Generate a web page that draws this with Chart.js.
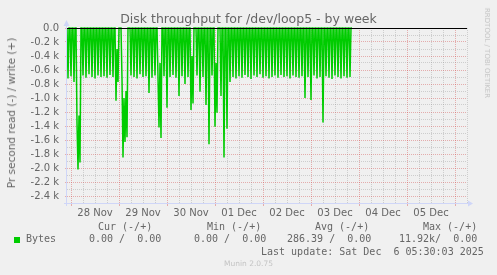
<!DOCTYPE html>
<html>
<head>
<meta charset="utf-8">
<title>Disk throughput for /dev/loop5 - by week</title>
<script src="https://cdn.jsdelivr.net/npm/chart.js@4.4.1/dist/chart.umd.min.js"></script>
<style>
html, body { margin: 0; padding: 0; background: #f0f0f0; }
#wrap { position: relative; width: 497px; height: 275px; overflow: hidden; }
canvas { position: absolute; left: 0; top: 0; }
.t { position: absolute; white-space: pre; color: #666; font-family: "DejaVu Sans"; }
.m { position: absolute; white-space: pre; color: #666; font-family: "DejaVu Sans Mono"; font-size: 10px; line-height: 12px; }
</style>
</head>
<body>
<div id="wrap">
  <canvas id="chart" width="497" height="275"></canvas>

  <div class="t" style="left:0;width:497px;text-align:center;top:11px;font-size:12.5px;line-height:16px;">Disk throughput for /dev/loop5 - by week</div>
  <div class="t" style="left:11px;top:113px;font-size:10.5px;transform:translate(-50%,-50%) rotate(-90deg);">Pr second read (-) / write (+)</div>
  <div class="t" style="left:487px;top:53px;font-size:7px;color:#c4c4c4;transform:translate(-50%,-50%) rotate(90deg);">RRDTOOL / TOBI OETIKER</div>

  <div class="m" style="left:98px;top:221px;">Cur (-/+)</div>
  <div class="m" style="left:207px;top:221px;">Min (-/+)</div>
  <div class="m" style="left:315px;top:221px;">Avg (-/+)</div>
  <div class="m" style="left:423px;top:221px;">Max (-/+)</div>

  <div style="position:absolute;left:14px;top:237px;width:6px;height:6px;background:#00cc00;"></div>
  <div class="m" style="left:26px;top:233px;">Bytes</div>
  <div class="m" style="left:89px;top:233px;">0.00 /  0.00</div>
  <div class="m" style="left:194px;top:233px;">0.00 /  0.00</div>
  <div class="m" style="left:287px;top:233px;">286.39 /  0.00</div>
  <div class="m" style="left:399px;top:233px;">11.92k/  0.00</div>

  <div class="m" style="left:261px;top:246px;">Last update: Sat Dec  6 05:30:03 2025</div>
  <div class="t" style="left:0;width:497px;text-align:center;top:259px;font-size:7.5px;line-height:10px;color:#c4c4c4;">Munin 2.0.75</div>
</div>

<script>
// ── Data ──────────────────────────────────────────────────────────────────
// read throughput (k bytes/s, negative = read), one value per 30 min,
// starting 27 Nov 22:00
const stepHours = 0.5;
const readK = [
  0, -0.72, 0, 0, -0.69, 0, 0, -0.77, 0, 0, -1.35, -2.02, -1.25, -1.92, 0,
  0, -0.68, 0, 0, -0.71, 0, 0, -0.66, 0, 0, -0.70, 0, 0, -0.72, 0,
  0, -0.68, 0, 0, -0.70, 0, 0, -0.69, 0, 0, -0.71, 0, 0, -0.67, 0,
  0, -0.70, 0, 0, -1.04, -0.30, -0.77, 0, 0, 0, -0.72, -1.85, -1.00, -1.63, -0.90,
  -1.56, 0, 0, 0, -0.68, 0, 0, -0.70, 0, 0, -0.72, 0, 0, -0.66, 0,
  0, -0.70, 0, 0, -0.69, 0, 0, -0.93, 0, 0, -0.71, 0, 0, -0.68, 0,
  0, -0.70, -1.42, -0.50, -1.57, 0, 0, -0.69, 0, 0, -1.14, 0, 0, -0.70, 0,
  0, -0.67, 0, 0, -0.71, 0, 0, -0.97, 0, 0, -0.69, 0, 0, -0.80, 0,
  0, -0.70, 0, 0, -1.17, -0.40, -1.08, 0, 0, 0, -0.68, 0, 0, -0.91, 0,
  0, -0.70, 0, 0, -1.10, 0, 0, -1.66, 0, 0, -0.68, 0, 0, -1.41, -0.50,
  -1.21, 0, 0, 0, -0.97, 0, 0, -1.85, 0, 0, -1.44, 0, 0, -0.77, 0,
  0, -0.70, 0, 0, -0.72, 0, 0, -0.69, 0, 0, -0.71, 0, 0, -0.67, 0,
  0, -0.70, 0, 0, -0.73, 0, 0, -0.68, 0, 0, -0.70, 0, 0, -0.66, 0,
  0, -0.71, 0, 0, -0.69, 0, 0, -0.72, 0, 0, -0.70, 0, 0, -0.68, 0,
  0, -0.71, 0, 0, -0.67, 0, 0, -0.70, 0, 0, -0.69, 0, 0, -0.72, 0,
  0, -0.68, 0, 0, -0.70, 0, 0, -0.71, 0, 0, -0.69, 0, 0, -1.00, 0,
  0, -0.70, 0, 0, -1.03, 0, 0, -0.68, 0, 0, -0.72, 0, 0, -0.70, 0,
  0, -1.35, 0, 0, -0.69, 0, 0, -0.71, 0, 0, -0.73, 0, 0, -0.68, 0,
  0, -0.70, 0, 0, -0.72, 0, 0, -0.69, 0, 0, -0.71, 0, 0, -0.70, 0,
  0
];

// x axis: hours since 27 Nov 22:00, first midnight at hour 2
const spanHours = 200;
const firstMidnight = 2;
const dayLabels = ['28 Nov', '29 Nov', '30 Nov', '01 Dec', '02 Dec', '03 Dec', '04 Dec', '05 Dec'];

// y axis (bytes/s)
const yMin = -2500;
const yMax = 0;
const yStep = 100;

// ── Colours ───────────────────────────────────────────────────────────────
const LINE  = '#00cc00';
const GRID  = 'rgba(140,140,140,0.35)';
const MGRID = 'rgba(210,70,70,0.40)';
const AXIS  = '#cfd6f8';
const FONT  = '#666666';

Chart.defaults.font.family = 'DejaVu Sans';

const xTicks = [];
for (let h = firstMidnight; h <= spanHours; h += 6) xTicks.push(h);

const isMidnight = v => ((v - firstMidnight) % 24) === 0;

// zero line + arrow-headed axes, the rrdtool look
const rrdAxes = {
    id: 'rrdAxes',
    afterDatasetsDraw(chart) {
        const { ctx, chartArea: a, scales } = chart;
        const y0 = Math.round(scales.y.getPixelForValue(0)) + 0.5;
        ctx.save();
        ctx.strokeStyle = '#000';
        ctx.lineWidth = 1;
        ctx.beginPath();
        ctx.moveTo(a.left, y0);
        ctx.lineTo(a.right, y0);
        ctx.stroke();

        const xb = Math.round(a.left) - 0.5;
        const yb = Math.round(a.bottom) + 0.5;
        ctx.strokeStyle = AXIS;
        ctx.fillStyle = AXIS;
        ctx.beginPath();
        ctx.moveTo(a.left - 3, yb);
        ctx.lineTo(a.right + 2, yb);
        ctx.moveTo(xb, a.bottom + 3);
        ctx.lineTo(xb, a.top - 4);
        ctx.stroke();
        ctx.beginPath();
        ctx.moveTo(a.right + 1, yb - 3);
        ctx.lineTo(a.right + 6, yb);
        ctx.lineTo(a.right + 1, yb + 3);
        ctx.closePath();
        ctx.fill();
        ctx.beginPath();
        ctx.moveTo(xb - 3, a.top - 2);
        ctx.lineTo(xb, a.top - 8);
        ctx.lineTo(xb + 3, a.top - 2);
        ctx.closePath();
        ctx.fill();
        ctx.restore();
    }
};

const chart = new Chart(document.getElementById('chart').getContext('2d'), {
    type: 'line',
    data: {
        datasets: [{
            label: 'Bytes',
            data: readK.map((v, i) => ({ x: i * stepHours, y: v * 1000 })),
            borderColor: LINE,
            borderWidth: 1.5,
            pointRadius: 0,
            tension: 0,
            fill: false,
            clip: 2
        }]
    },
    options: {
        responsive: false,
        animation: false,
        devicePixelRatio: 1,
        layout: { padding: { left: 0, top: 28, right: 30, bottom: 0 } },
        plugins: { legend: { display: false }, tooltip: { enabled: false }, title: { display: false } },
        scales: {
            x: {
                type: 'linear',
                min: 0,
                max: spanHours,
                afterBuildTicks: s => { s.ticks = xTicks.map(v => ({ value: v })); },
                afterFit: s => { s.height = 72; },
                grid: {
                    color: c => isMidnight(c.tick.value) ? MGRID : GRID,
                    tickColor: c => isMidnight(c.tick.value) ? MGRID : 'rgba(0,0,0,0)',
                    tickLength: 3,
                    lineWidth: 1
                },
                border: { display: false, dash: [1, 1] },
                ticks: {
                    autoSkip: false,
                    maxRotation: 0,
                    padding: 1,
                    color: FONT,
                    font: { size: 10 },
                    callback: v => {
                        const h = v - firstMidnight;
                        return (h % 24 === 12) ? dayLabels[(h - 12) / 24] : '';
                    }
                }
            },
            y: {
                min: yMin,
                max: yMax,
                afterFit: s => { s.width = 67; },
                grid: {
                    color: c => {
                        const v = Math.round(c.tick.value);
                        if (v === 0) return 'rgba(0,0,0,0)';
                        return v % 200 === 0 ? MGRID : GRID;
                    },
                    tickColor: c => Math.round(c.tick.value) % 200 === 0 ? MGRID : 'rgba(0,0,0,0)',
                    tickLength: 2
                },
                border: { display: false, dash: [1, 1] },
                ticks: {
                    stepSize: yStep,
                    autoSkip: false,
                    padding: 6,
                    color: FONT,
                    font: { size: 10 },
                    callback: v => {
                        const r = Math.round(v);
                        if (r % 200 !== 0) return '';
                        return r === 0 ? '0.0' : (r / 1000).toFixed(1) + ' k';
                    }
                }
            }
        }
    },
    plugins: [rrdAxes]
});
</script>
</body>
</html>
